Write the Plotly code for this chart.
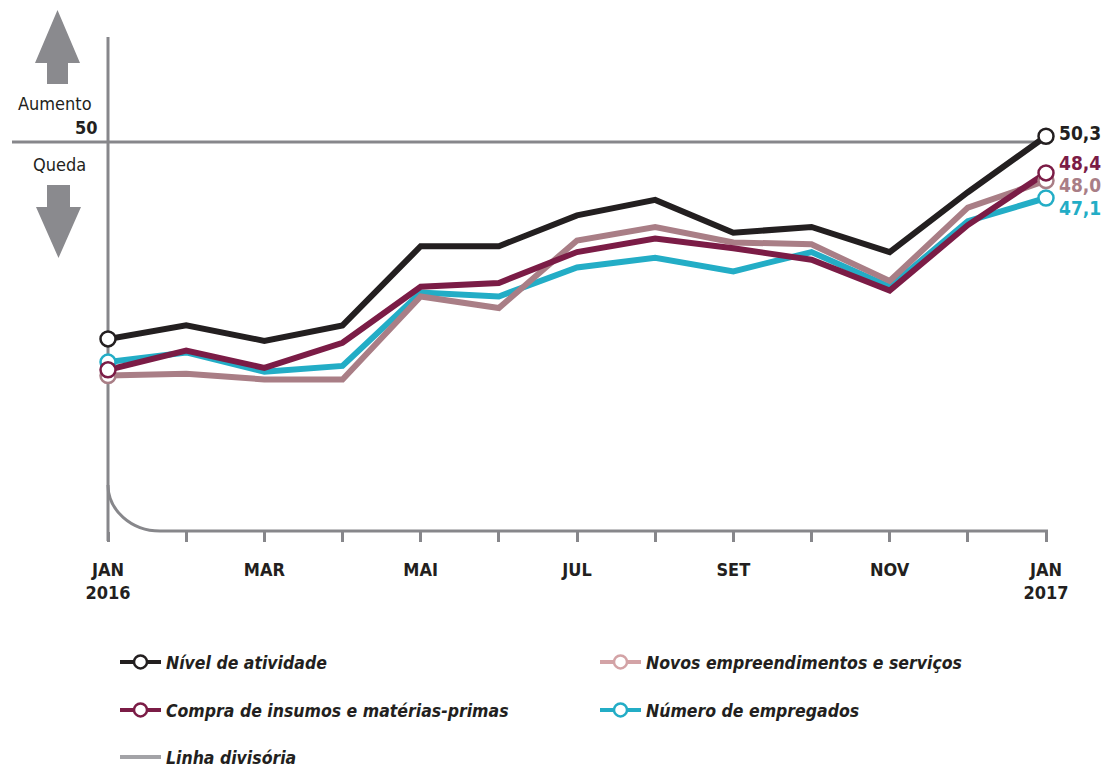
import plotly.graph_objects as go

# ---------------- data ----------------
months = list(range(13))
tick_labels = ["JAN<br>2016", "", "MAR", "", "MAI", "", "JUL", "", "SET", "", "NOV", "", "JAN<br>2017"]

nivel_atividade = [39.8, 40.5, 39.7, 40.5, 44.6, 44.6, 46.2, 47.0, 45.3, 45.6, 44.3, 47.4, 50.3]
compra_insumos = [38.2, 39.2, 38.3, 39.6, 42.5, 42.7, 44.3, 45.0, 44.5, 43.9, 42.3, 45.7, 48.4]
novos_empreend = [37.9, 38.0, 37.7, 37.7, 42.0, 41.4, 44.9, 45.6, 44.8, 44.7, 42.8, 46.6, 48.0]
num_empregados = [38.6, 39.1, 38.1, 38.4, 42.2, 42.0, 43.5, 44.0, 43.3, 44.3, 42.5, 45.9, 47.1]
linha_divisoria = 50

series_names = ["Nível de atividade", "Compra de insumos e matérias-primas",
                "Novos empreendimentos e serviços", "Número de empregados"]
end_labels = ["50,3", "48,4", "48,0", "47,1"]

# ---------------- style ----------------
C_BLACK = "#231f20"
C_MAROON = "#7b1c46"
C_PINK = "#a97e86"
C_CYAN = "#23adc6"
C_GRAY = "#87878b"
FONT = "DejaVu Sans Condensed, DejaVu Sans, sans-serif"

W, H = 1109, 769
L, R, T, B = 108, 1046, 37, 531
YMIN, YMAX = 29.85, 55.44


def px(x):
    return (x - L) / (R - L)


def py(y):
    return (B - y) / (B - T)


def vy(v):
    return (v - YMIN) / (YMAX - YMIN)


fig = go.Figure()

series = [
    (num_empregados, C_CYAN, series_names[3], end_labels[3], -10),
    (novos_empreend, C_PINK, series_names[2], end_labels[2], -4),
    (compra_insumos, C_MAROON, series_names[1], end_labels[1], 10),
    (nivel_atividade, C_BLACK, series_names[0], end_labels[0], 3),
]

for vals, col, name, lab, ys in series:
    fig.add_trace(go.Scatter(x=months, y=vals, mode="lines",
                             line=dict(color=col, width=6),
                             showlegend=False, hoverinfo="skip"))

for vals, col, name, lab, ys in series:
    fig.add_trace(go.Scatter(x=[months[0], months[-1]], y=[vals[0], vals[-1]], mode="markers",
                             marker=dict(symbol="circle", size=15, color="white",
                                         line=dict(color=col, width=2.5)),
                             cliponaxis=False, showlegend=False, hoverinfo="skip"))
    fig.add_annotation(x=months[-1], y=vals[-1], text="<b>" + lab + "</b>", showarrow=False,
                       xanchor="left", yanchor="middle", xshift=11, yshift=ys,
                       font=dict(family=FONT, size=19, color=col))

# legend entries (each in its own legend box for exact placement)
legend_items = [
    (series_names[0], C_BLACK, "legend", px(115), py(662), True),
    (series_names[2], "#d3a3a6", "legend2", px(595), py(662), True),
    (series_names[1], C_MAROON, "legend3", px(115), py(710), True),
    (series_names[3], C_CYAN, "legend4", px(595), py(710), True),
    ("Linha divisória", "#a3a3a7", "legend5", px(115), py(757), False),
]
legend_layout = {}
for name, col, lg, lx, ly, mk in legend_items:
    fig.add_trace(go.Scatter(x=[None], y=[None], name=name,
                             mode="lines+markers" if mk else "lines",
                             line=dict(color=col, width=4),
                             marker=dict(symbol="circle", size=13, color="white",
                                         line=dict(color=col, width=2.5)),
                             legend=lg, showlegend=True))
    legend_layout[lg] = dict(x=lx, y=ly, xanchor="left", yanchor="middle",
                             itemwidth=41,
                             bgcolor="rgba(0,0,0,0)", borderwidth=0,
                             font=dict(family=FONT, size=17.5, color=C_BLACK,
                                       style="italic", weight="bold"))

shapes = [
    # linha divisória (50)
    dict(type="line", xref="paper", yref="paper", x0=px(12), x1=px(1046),
         y0=vy(linha_divisoria), y1=vy(linha_divisoria),
         line=dict(color=C_GRAY, width=3), layer="below"),
    # vertical axis
    dict(type="line", xref="paper", yref="paper", x0=px(108), x1=px(108),
         y0=py(37), y1=py(541), line=dict(color=C_GRAY, width=3), layer="below"),
    # curved corner + baseline
    dict(type="path", xref="paper", yref="paper",
         path=f"M {px(108)},{py(485)} C {px(108)},{py(510)} {px(131)},{py(531)} {px(160)},{py(531)} L {px(1048)},{py(531)}",
         line=dict(color=C_GRAY, width=3), layer="below"),
    # up arrow
    dict(type="path", xref="paper", yref="paper",
         path=(f"M {px(47)},{py(84)} L {px(47)},{py(63)} L {px(35)},{py(63)} L {px(57.5)},{py(10)} "
               f"L {px(80)},{py(63)} L {px(68)},{py(63)} L {px(68)},{py(84)} Z"),
         fillcolor="#8a8a8e", line=dict(width=0)),
    # down arrow
    dict(type="path", xref="paper", yref="paper",
         path=(f"M {px(47)},{py(185)} L {px(47)},{py(207)} L {px(36)},{py(207)} L {px(58.5)},{py(258)} "
               f"L {px(81)},{py(207)} L {px(70)},{py(207)} L {px(70)},{py(185)} Z"),
         fillcolor="#8a8a8e", line=dict(width=0)),
]

annotations_extra = [
    dict(xref="paper", yref="paper", x=px(94), y=py(103), text="Aumento", showarrow=False,
         xanchor="right", yanchor="middle", font=dict(family=FONT, size=18, color=C_BLACK)),
    dict(xref="paper", yref="paper", x=px(100), y=py(127), text="<b>50</b>", showarrow=False,
         xanchor="right", yanchor="middle", font=dict(family=FONT, size=18, color=C_BLACK)),
    dict(xref="paper", yref="paper", x=px(31), y=py(164), text="Queda", showarrow=False,
         xanchor="left", yanchor="middle", font=dict(family=FONT, size=18, color=C_BLACK)),
]
for a in annotations_extra:
    fig.add_annotation(**a)

fig.update_layout(
    width=W, height=H, autosize=False,
    margin=dict(l=L, r=W - R, t=T, b=H - B, autoexpand=False),
    paper_bgcolor="white", plot_bgcolor="white",
    shapes=shapes,
    xaxis=dict(range=[0, 12], tickmode="array", tickvals=months, ticktext=tick_labels,
               showgrid=False, zeroline=False, showline=False,
               ticks="outside", ticklen=10, tickwidth=3, tickcolor=C_GRAY,
               ticklabelstandoff=12,
               tickfont=dict(family=FONT, size=18, color=C_BLACK, weight="bold")),
    yaxis=dict(range=[YMIN, YMAX], visible=False, showgrid=False, zeroline=False),
    **legend_layout,
)

fig.write_html("out.html", config={"displayModeBar": False},
               post_script="document.body.style.margin='0';")
